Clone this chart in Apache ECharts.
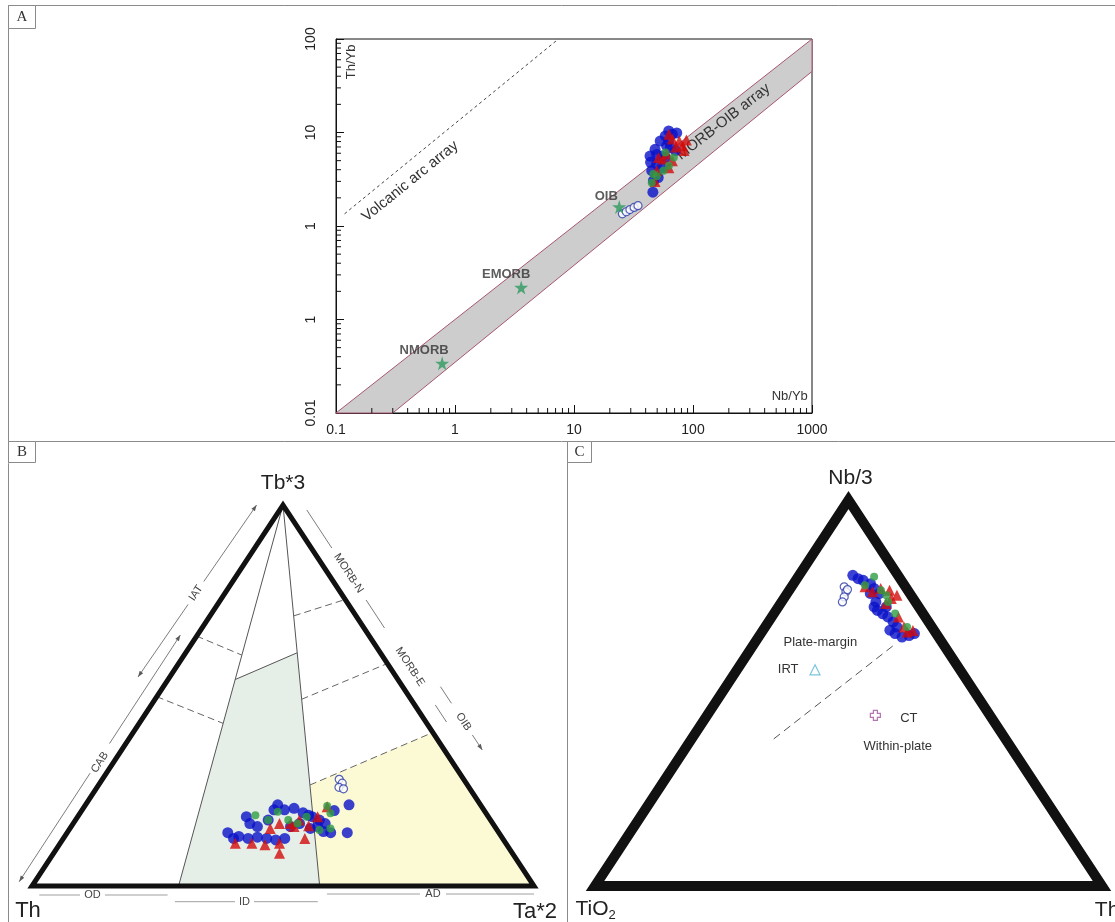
<!DOCTYPE html>
<html>
<head>
<meta charset="utf-8">
<script src="https://cdn.jsdelivr.net/npm/echarts@6/dist/echarts.min.js"></script>
<style>
html,body{margin:0;padding:0;background:#fff;}
#c{width:1115px;height:922px;}
</style>
</head>
<body>
<div id="c"></div>
<script>
// ---------------- Panel A: Th/Yb vs Nb/Yb (log–log) ----------------
const xTickLabels = ['0.1', '1', '10', '100', '1000'];
const yTickLabels = ['0.01', '1', '1', '10', '100'];
const arrayBand = [[0.1, 0.01], [1000, 100], [1000, 45], [0.3, 0.01]];
const volcanicArc = [[0.118, 1.35], [7.4, 100]];
const starNames = ['NMORB', 'EMORB', 'OIB'];
const starNbYb = [0.78, 3.6, 24];
const starThYb = [0.034, 0.22, 1.6];
const aBlue = [[46, 2.3], [45, 3.9], [43.5, 5.6], [48, 6.6], [53, 8.1], [58.5, 9.2], [62.5, 8.1], [67, 9.6],
  [64.5, 6.9], [55, 5.6], [49.5, 4.6], [51, 3.3], [58.5, 5.4], [71.5, 6.4], [46.5, 3.05], [55, 4.2],
  [62.5, 10.4], [49.5, 5.8], [44, 4.8], [60, 7.2], [73, 9.9]];
const aRed = [[62.7, 9.6], [67, 8.5], [60.4, 5.9], [71.6, 7.0], [56.4, 5.2], [51.3, 5.4], [67, 5.0],
  [62.7, 4.2], [76.6, 8.1], [49.6, 3.9], [48, 3.0], [88, 8.3], [82, 7.2], [84, 6.4]];
const aGreen = [[45, 2.9], [49.6, 3.4], [56.4, 3.9], [62.7, 4.4], [69, 5.4], [58.6, 6.1], [46.4, 3.6]];
const aOpen = [[25.5, 1.35], [27.5, 1.42], [29.5, 1.5], [32, 1.58], [34.5, 1.65]];

// ---------------- Panel B: Th – Tb*3 – Ta*2 (percent, [Th, Tb*3, Ta*2]) ----------------
const bVertices = [[100, 0, 0], [0, 0, 100], [0, 100, 0]];
const bFieldID = [[70.8, 0, 29.2], [32.4, 54.2, 13.4], [16.6, 61.2, 22.2], [42.7, 0, 57.3]];
const bFieldAD = [[31.4, 26.5, 42.1], [0, 40.3, 59.7], [0, 0, 100], [42.7, 0, 57.3]];
const bSolid = [
  [[0, 100, 0], [70.8, 0, 29.2]],
  [[0, 100, 0], [42.7, 0, 57.3]],
  [[32.4, 54.2, 13.4], [16.6, 61.2, 22.2]]
];
const bDashed = [
  [[31.4, 26.5, 42.1], [0, 40.3, 59.7]],
  [[12.4, 70.9, 16.7], [0, 75.2, 24.8]],
  [[21.8, 49, 29.2], [0, 58.4, 41.6]],
  [[34.4, 65.6, 0], [27.9, 60.6, 11.5]],
  [[50.3, 49.7, 0], [40.6, 42.7, 16.7]]
];
const bBlue = [[54, 14, 32], [53.6, 12.5, 33.9], [52.3, 13, 34.7], [50.7, 12.5, 36.8], [48.7, 12.8, 38.5],
  [47, 12.5, 40.5], [45.4, 12.1, 42.5], [43.4, 12.5, 44.1], [48.2, 18.2, 33.6], [48.4, 16.4, 35.2],
  [47.3, 15.6, 37.1], [44.3, 17.3, 38.4], [40.4, 21.3, 38.3], [39.7, 20, 40.3], [37.6, 20.4, 42],
  [36.4, 19.2, 44.4], [35.1, 18.2, 46.7], [34.1, 17.3, 48.6], [33.4, 16.4, 50.2], [35.3, 15.6, 49.1],
  [37, 15.1, 47.9], [29.9, 19.8, 50.3], [26.2, 21.3, 52.5], [30.2, 14, 55.8], [33.5, 14, 52.5],
  [34.8, 14.3, 50.9], [38.5, 16.4, 45.1], [40.7, 15.6, 43.7], [41.8, 20, 38.2], [35.6, 18.6, 45.8]];
const bRed = [[53.9, 11.2, 34.9], [50.6, 11.2, 38.2], [45, 15.1, 39.9], [42.5, 16.4, 41.1], [40.3, 16.4, 43.3],
  [38.1, 17.3, 44.6], [37, 15.8, 47.2], [45.1, 11.2, 43.7], [46.4, 8.6, 45], [39.4, 12.5, 48.1],
  [30.8, 20.8, 48.4], [34, 18.2, 47.8], [48.2, 10.8, 41], [40, 15.6, 44.4]];
const bGreen = [[46.2, 18.6, 35.2], [41.3, 19.5, 39.2], [40.3, 17.3, 42.4], [36.2, 18.2, 45.6], [35.4, 14.7, 49.9],
  [33, 15.1, 51.9], [30.7, 21, 48.3], [31, 19.1, 49.9], [38.9, 16.4, 44.7], [44.3, 17.3, 38.4]];
const bOpen = [[24.8, 28, 47.2], [24.7, 27, 48.3], [25.9, 25.9, 48.2], [25.2, 25.5, 49.3]];

// ---------------- Panel C: TiO2 – Nb/3 – Th (percent, [TiO2, Nb/3, Th]) ----------------
const cVertices = [[100, 0, 0], [0, 0, 100], [0, 100, 0]];
const cDivider = [[45.7, 38.1, 16.2], [10, 62.3, 27.7]];
const cIRT = [28.6, 56, 15.4];
const cCT = [22.6, 44.2, 33.2];
const cBlue = [[8.9, 80.5, 10.6], [8.3, 79.7, 12.1], [7.5, 79.2, 13.3], [6.5, 78.4, 15.2], [6.4, 77.1, 16.5],
  [6.1, 75.8, 18.2], [7.8, 73.6, 18.6], [8.8, 72.3, 18.9], [8.6, 71.4, 20], [8, 70.6, 21.5],
  [7.4, 69.7, 22.9], [7, 68.4, 24.6], [6.9, 67.1, 26], [8.7, 66.2, 25], [8.1, 65.4, 26.5],
  [7.2, 64.5, 28.3], [5.6, 64.9, 29.5], [4.3, 65.4, 30.3], [6.4, 72.3, 21.3], [7.8, 75.8, 16.4]];
const cRed = [[8, 77.5, 14.5], [7.2, 76.2, 16.6], [5.1, 77.1, 17.8], [3.6, 76.6, 19.8], [2.8, 75.3, 21.9],
  [4.3, 74.5, 21.2], [6, 73.2, 20.8], [5.3, 69.7, 25], [5.5, 67.1, 27.4], [5.5, 65.8, 28.7], [4.2, 66.2, 29.6]];
const cGreen = [[4.9, 80.1, 15], [5.3, 76.6, 18.1], [5.4, 73.6, 21], [5.5, 70.6, 23.9], [4.9, 67.1, 28],
  [7.8, 77.9, 14.3], [4.9, 75.3, 19.8]];
const cOpen = [[12.1, 77.5, 10.4], [12.4, 76.2, 11.4], [13.4, 74.9, 11.7], [14.4, 73.6, 12], [11.8, 76.8, 11.4]];

// ---------------- helpers ----------------
const FONT = "'Liberation Sans', Arial, sans-serif";
const BLUE = '#0a12c8', RED = '#d20b0b', GREEN = '#2f9e44', OPEN = '#2b3aa8';

// [left, top, right] composition -> unit triangle coordinates (left vertex at 0,0; top at 0.5,1)
function tern(p) {
  const s = p[0] + p[1] + p[2];
  const b = p[1] / s, c = p[2] / s;
  return [c + b / 2, b];
}

function arrowHead(tip, from, size) {
  const dx = tip[0] - from[0], dy = tip[1] - from[1];
  const L = Math.hypot(dx, dy) || 1;
  const ux = dx / L, uy = dy / L;
  const bx = tip[0] - ux * size, by = tip[1] - uy * size, w = size * 0.35;
  return [tip, [bx - uy * w, by + ux * w], [bx + uy * w, by - ux * w]];
}

// shapes drawn in a grid's data space
function shapeSeries(gi, list, z) {
  return {
    type: 'custom', xAxisIndex: gi, yAxisIndex: gi, clip: false, silent: true, z: z,
    data: [gi === 0 ? [1, 1] : [0.5, 0.5]],
    renderItem: function (params, api) {
      const children = [];
      list.forEach(function (s) {
        const P = s.pts.map(function (p) { return api.coord(p); });
        children.push({
          type: s.closed ? 'polygon' : 'polyline',
          shape: { points: P },
          style: {
            fill: s.fill || 'none', stroke: s.stroke || 'none', lineWidth: s.width || 1,
            lineDash: s.dash || null, lineJoin: 'miter', miterLimit: 30
          }
        });
        if (s.arrowEnd) {
          children.push({ type: 'polygon', shape: { points: arrowHead(P[P.length - 1], P[P.length - 2], 6) }, style: { fill: s.stroke } });
        }
        if (s.arrowStart) {
          children.push({ type: 'polygon', shape: { points: arrowHead(P[0], P[1], 6) }, style: { fill: s.stroke } });
        }
      });
      return { type: 'group', children: children };
    }
  };
}

// annotation texts anchored in a grid's data space
function textSeries(gi, list, z) {
  return {
    type: 'custom', xAxisIndex: gi, yAxisIndex: gi, clip: false, silent: true, z: z,
    data: [gi === 0 ? [1, 1] : [0.5, 0.5]],
    renderItem: function (params, api) {
      return {
        type: 'group',
        children: list.map(function (t) {
          const p = api.coord(t.at);
          return {
            type: 'text', x: p[0], y: p[1], rotation: (t.rot || 0) * Math.PI / 180,
            style: {
              text: t.text, fill: t.color || '#333', font: t.font || ('13px ' + FONT),
              textAlign: 'center', textVerticalAlign: 'middle', align: 'center', verticalAlign: 'middle'
            }
          };
        })
      };
    }
  };
}

// log-axis minor ticks for panel A
const minorX = [], minorY = [];
[-1, 0, 1, 2].forEach(function (k) { for (let m = 2; m <= 9; m++) minorX.push(m * Math.pow(10, k)); });
[-2, -1, 0, 1].forEach(function (k) { for (let m = 2; m <= 9; m++) minorY.push(m * Math.pow(10, k)); });
const minorTicks = {
  type: 'custom', xAxisIndex: 0, yAxisIndex: 0, clip: false, silent: true, z: 6,
  data: [[1, 1]],
  renderItem: function (params, api) {
    const ch = [];
    minorX.forEach(function (v) {
      const p = api.coord([v, 0.01]);
      ch.push({ type: 'line', shape: { x1: p[0], y1: p[1], x2: p[0], y2: p[1] - 5 }, style: { stroke: '#111', lineWidth: 1 } });
    });
    minorY.forEach(function (v) {
      const p = api.coord([0.1, v]);
      ch.push({ type: 'line', shape: { x1: p[0], y1: p[1], x2: p[0] + 5, y2: p[1] }, style: { stroke: '#111', lineWidth: 1 } });
    });
    return { type: 'group', children: ch };
  }
};

function logLabel(arr, minVal) {
  return function (v) { return arr[Math.round(Math.log10(v) - Math.log10(minVal))] || ''; };
}

const chart = echarts.init(document.getElementById('c'));

const SIDE = '11px ' + FONT;
const LINE = '#5a5a5a';

const option = {
  animation: false,
  backgroundColor: '#fff',
  grid: [
    { left: 336, top: 39, width: 476, height: 374, show: true, borderColor: '#111', borderWidth: 1, backgroundColor: 'transparent' },
    { left: 32, top: 505, width: 502, height: 381, show: false },
    { left: 595, top: 500, width: 507, height: 386, show: false }
  ],
  xAxis: [
    {
      gridIndex: 0, type: 'log', logBase: 10, min: 0.1, max: 1000,
      axisLine: { lineStyle: { color: '#111', width: 1 } },
      axisTick: { inside: true, length: 8, lineStyle: { color: '#111' } },
      axisLabel: { formatter: logLabel(xTickLabels, 0.1), fontSize: 14, color: '#222', fontFamily: FONT, margin: 10, showMinLabel: true, showMaxLabel: true },
      splitLine: { show: false }
    },
    { gridIndex: 1, type: 'value', min: 0, max: 1, show: false },
    { gridIndex: 2, type: 'value', min: 0, max: 1, show: false }
  ],
  yAxis: [
    {
      gridIndex: 0, type: 'log', logBase: 10, min: 0.01, max: 100,
      axisLine: { lineStyle: { color: '#111', width: 1 } },
      axisTick: { inside: true, length: 8, lineStyle: { color: '#111' } },
      axisLabel: { formatter: logLabel(yTickLabels, 0.01), fontSize: 14, color: '#222', fontFamily: FONT, rotate: 90, margin: 18, showMinLabel: true, showMaxLabel: true },
      splitLine: { show: false }
    },
    { gridIndex: 1, type: 'value', min: 0, max: 1, show: false },
    { gridIndex: 2, type: 'value', min: 0, max: 1, show: false }
  ],
  graphic: [
    { type: 'line', shape: { x1: 8, y1: 5.5, x2: 1115, y2: 5.5 }, style: { stroke: '#8a8a8a', lineWidth: 1 } },
    { type: 'line', shape: { x1: 8.5, y1: 5, x2: 8.5, y2: 922 }, style: { stroke: '#8a8a8a', lineWidth: 1 } },
    { type: 'line', shape: { x1: 8, y1: 441.5, x2: 1115, y2: 441.5 }, style: { stroke: '#8a8a8a', lineWidth: 1 } },
    { type: 'line', shape: { x1: 567.5, y1: 441, x2: 567.5, y2: 922 }, style: { stroke: '#8a8a8a', lineWidth: 1 } },
    { type: 'rect', shape: { x: 8.5, y: 5.5, width: 27, height: 23 }, style: { fill: '#fff', stroke: '#8a8a8a', lineWidth: 1 } },
    { type: 'text', x: 22, y: 17.5, style: { text: 'A', font: "15px 'Liberation Serif', serif", fill: '#333', align: 'center', verticalAlign: 'middle', textAlign: 'center', textVerticalAlign: 'middle' } },
    { type: 'rect', shape: { x: 8.5, y: 441.5, width: 27, height: 21 }, style: { fill: '#fff', stroke: '#8a8a8a', lineWidth: 1 } },
    { type: 'text', x: 22, y: 452.5, style: { text: 'B', font: "15px 'Liberation Serif', serif", fill: '#333', align: 'center', verticalAlign: 'middle', textAlign: 'center', textVerticalAlign: 'middle' } },
    { type: 'rect', shape: { x: 567.5, y: 441.5, width: 24, height: 21 }, style: { fill: '#fff', stroke: '#8a8a8a', lineWidth: 1 } },
    { type: 'text', x: 579.5, y: 452.5, style: { text: 'C', font: "15px 'Liberation Serif', serif", fill: '#333', align: 'center', verticalAlign: 'middle', textAlign: 'center', textVerticalAlign: 'middle' } }
  ],
  series: [
    // ---- Panel A ----
    shapeSeries(0, [
      { pts: arrayBand, closed: true, fill: '#cdcdcd', stroke: '#a9576f', width: 1 },
      { pts: volcanicArc, stroke: '#444', width: 1, dash: [3, 3] }
    ], 1),
    minorTicks,
    textSeries(0, [
      { at: [0.42, 3.0], text: 'Volcanic arc array', rot: 39, font: '15px ' + FONT, color: '#333' },
      { at: [180, 13], text: 'MORB-OIB array', rot: 38, font: '15px ' + FONT, color: '#333' },
      { at: [0.136, 57], text: 'Th/Yb', rot: 90, font: '13px ' + FONT, color: '#333' },
      { at: [650, 0.0152], text: 'Nb/Yb', font: '13px ' + FONT, color: '#333' }
    ], 3),
    {
      type: 'scatter', xAxisIndex: 0, yAxisIndex: 0, z: 5, symbol: 'circle', symbolSize: 11,
      itemStyle: { color: BLUE }, data: aBlue
    },
    {
      type: 'scatter', xAxisIndex: 0, yAxisIndex: 0, z: 6, symbol: 'triangle', symbolSize: 11,
      itemStyle: { color: RED }, data: aRed
    },
    {
      type: 'scatter', xAxisIndex: 0, yAxisIndex: 0, z: 7, symbol: 'circle', symbolSize: 8,
      itemStyle: { color: GREEN }, data: aGreen
    },
    {
      type: 'scatter', xAxisIndex: 0, yAxisIndex: 0, z: 7, symbol: 'circle', symbolSize: 8,
      itemStyle: { color: '#fff', borderColor: OPEN, borderWidth: 1.2 }, data: aOpen
    },
    {
      type: 'scatter', xAxisIndex: 0, yAxisIndex: 0, z: 8,
      symbol: 'path://M50,0 L61,35 L98,35 L68,57 L79,91 L50,70 L21,91 L32,57 L2,35 L39,35 Z',
      symbolSize: 14, itemStyle: { color: '#2e9a5e' },
      label: {
        show: true, position: 'inside', fontFamily: FONT, fontWeight: 'bold', fontSize: 13, color: '#333',
        formatter: function (p) { return starNames[p.dataIndex]; }
      },
      data: starNbYb.map(function (x, i) {
        const offs = [[-18, -13], [-15, -13], [-13, -10]];
        return { value: [x, starThYb[i]], label: { offset: offs[i] } };
      })
    },

    // ---- Panel B ----
    shapeSeries(1, [
      { pts: bFieldID.map(tern), closed: true, fill: '#e5eee7' },
      { pts: bFieldAD.map(tern), closed: true, fill: '#fcf9d5' }
    ], 1),
    shapeSeries(1, bSolid.map(function (l) { return { pts: l.map(tern), stroke: '#555', width: 1 }; })
      .concat(bDashed.map(function (l) { return { pts: l.map(tern), stroke: '#666', width: 1, dash: [7, 4] }; })), 2),
    shapeSeries(1, [
      // outer guides with arrows
      { pts: [[0.4474, 1.0], [0.3422, 0.7992]], stroke: LINE, width: 0.8, arrowStart: true },
      { pts: [[0.311, 0.7391], [0.2112, 0.5486]], stroke: LINE, width: 0.8, arrowEnd: true },
      { pts: [[0.2956, 0.6588], [0.1544, 0.374]], stroke: LINE, width: 0.8, arrowStart: true },
      { pts: [[0.1157, 0.2961], [-0.0255, 0.0113]], stroke: LINE, width: 0.8, arrowEnd: true },
      { pts: [[0.5474, 0.9869], [0.5972, 0.8871]], stroke: LINE, width: 0.8 },
      { pts: [[0.6655, 0.7507], [0.7022, 0.6772]], stroke: LINE, width: 0.8 },
      { pts: [[0.8034, 0.4751], [0.8257, 0.4304]], stroke: LINE, width: 0.8 },
      { pts: [[0.8137, 0.5231], [0.8355, 0.4795]], stroke: LINE, width: 0.8 },
      { pts: [[0.8773, 0.3963], [0.897, 0.357]], stroke: LINE, width: 0.8, arrowEnd: true },
      { pts: [[0.0145, -0.0236], [0.0956, -0.0236]], stroke: '#888', width: 0.8 },
      { pts: [[0.1454, -0.0236], [0.2701, -0.0236]], stroke: '#888', width: 0.8 },
      { pts: [[0.2847, -0.0412], [0.4044, -0.0412]], stroke: '#888', width: 0.8 },
      { pts: [[0.4422, -0.0412], [0.5693, -0.0412]], stroke: '#888', width: 0.8 },
      { pts: [[0.5876, -0.021], [0.7729, -0.021]], stroke: '#888', width: 0.8 },
      { pts: [[0.8247, -0.021], [1.0, -0.021]], stroke: '#888', width: 0.8 }
    ], 2),
    shapeSeries(1, [{ pts: bVertices.map(tern), closed: true, stroke: '#111', width: 5 }], 4),
    textSeries(1, [
      { at: [0.5, 1.058], text: 'Tb*3', font: '21px ' + FONT, color: '#222' },
      { at: [-0.008, -0.066], text: 'Th', font: '22px ' + FONT, color: '#222' },
      { at: [1.002, -0.068], text: 'Ta*2', font: '22px ' + FONT, color: '#222' },
      { at: [0.3265, 0.769], text: 'IAT', rot: 56.6, font: SIDE, color: '#444' },
      { at: [0.1351, 0.3244], text: 'CAB', rot: 56.6, font: SIDE, color: '#444' },
      { at: [0.6305, 0.8207], text: 'MORB-N', rot: -56.6, font: SIDE, color: '#444' },
      { at: [0.753, 0.5753], text: 'MORB-E', rot: -56.6, font: SIDE, color: '#444' },
      { at: [0.8598, 0.431], text: 'OIB', rot: -56.6, font: SIDE, color: '#444' },
      { at: [0.1205, -0.0236], text: 'OD', font: SIDE, color: '#444' },
      { at: [0.4233, -0.0412], text: 'ID', font: SIDE, color: '#444' },
      { at: [0.7988, -0.021], text: 'AD', font: SIDE, color: '#444' }
    ], 3),
    { type: 'scatter', xAxisIndex: 1, yAxisIndex: 1, z: 5, symbol: 'circle', symbolSize: 11, itemStyle: { color: BLUE }, data: bBlue.map(tern) },
    { type: 'scatter', xAxisIndex: 1, yAxisIndex: 1, z: 6, symbol: 'triangle', symbolSize: 11, itemStyle: { color: RED }, data: bRed.map(tern) },
    { type: 'scatter', xAxisIndex: 1, yAxisIndex: 1, z: 7, symbol: 'circle', symbolSize: 8, itemStyle: { color: GREEN }, data: bGreen.map(tern) },
    { type: 'scatter', xAxisIndex: 1, yAxisIndex: 1, z: 7, symbol: 'circle', symbolSize: 8, itemStyle: { color: '#fff', borderColor: OPEN, borderWidth: 1.2 }, data: bOpen.map(tern) },

    // ---- Panel C ----
    shapeSeries(2, [{ pts: cDivider.map(tern), stroke: '#555', width: 1, dash: [8, 5] }], 2),
    shapeSeries(2, [{ pts: cVertices.map(tern), closed: true, stroke: '#111', width: 10 }], 4),
    textSeries(2, [
      { at: [0.504, 1.057], text: 'Nb/3', font: '21px ' + FONT, color: '#222' },
      { at: [-0.006, -0.06], text: 'TiO', font: '21px ' + FONT, color: '#222' },
      { at: [0.034, -0.076], text: '2', font: '13px ' + FONT, color: '#222' },
      { at: [1.01, -0.063], text: 'Th', font: '21px ' + FONT, color: '#222' },
      { at: [0.4444, 0.63], text: 'Plate-margin', font: '13px ' + FONT, color: '#333' },
      { at: [0.381, 0.5604], text: 'IRT', font: '13px ' + FONT, color: '#333' },
      { at: [0.619, 0.4344], text: 'CT', font: '13px ' + FONT, color: '#333' },
      { at: [0.5972, 0.3625], text: 'Within-plate', font: '13px ' + FONT, color: '#333' }
    ], 3),
    { type: 'scatter', xAxisIndex: 2, yAxisIndex: 2, z: 5, symbol: 'triangle', symbolSize: 10, itemStyle: { color: '#fff', borderColor: '#5ab4d6', borderWidth: 1.2 }, data: [tern(cIRT)] },
    {
      type: 'scatter', xAxisIndex: 2, yAxisIndex: 2, z: 5,
      symbol: 'path://M3,0 L7,0 L7,3 L10,3 L10,7 L7,7 L7,10 L3,10 L3,7 L0,7 L0,3 L3,3 Z',
      symbolSize: 10, itemStyle: { color: '#fff', borderColor: '#a0529a', borderWidth: 1.2 }, data: [tern(cCT)]
    },
    { type: 'scatter', xAxisIndex: 2, yAxisIndex: 2, z: 5, symbol: 'circle', symbolSize: 11, itemStyle: { color: BLUE }, data: cBlue.map(tern) },
    { type: 'scatter', xAxisIndex: 2, yAxisIndex: 2, z: 6, symbol: 'triangle', symbolSize: 11, itemStyle: { color: RED }, data: cRed.map(tern) },
    { type: 'scatter', xAxisIndex: 2, yAxisIndex: 2, z: 7, symbol: 'circle', symbolSize: 8, itemStyle: { color: GREEN }, data: cGreen.map(tern) },
    { type: 'scatter', xAxisIndex: 2, yAxisIndex: 2, z: 7, symbol: 'circle', symbolSize: 8, itemStyle: { color: '#fff', borderColor: OPEN, borderWidth: 1.2 }, data: cOpen.map(tern) }
  ]
};

chart.setOption(option);
</script>
</body>
</html>
